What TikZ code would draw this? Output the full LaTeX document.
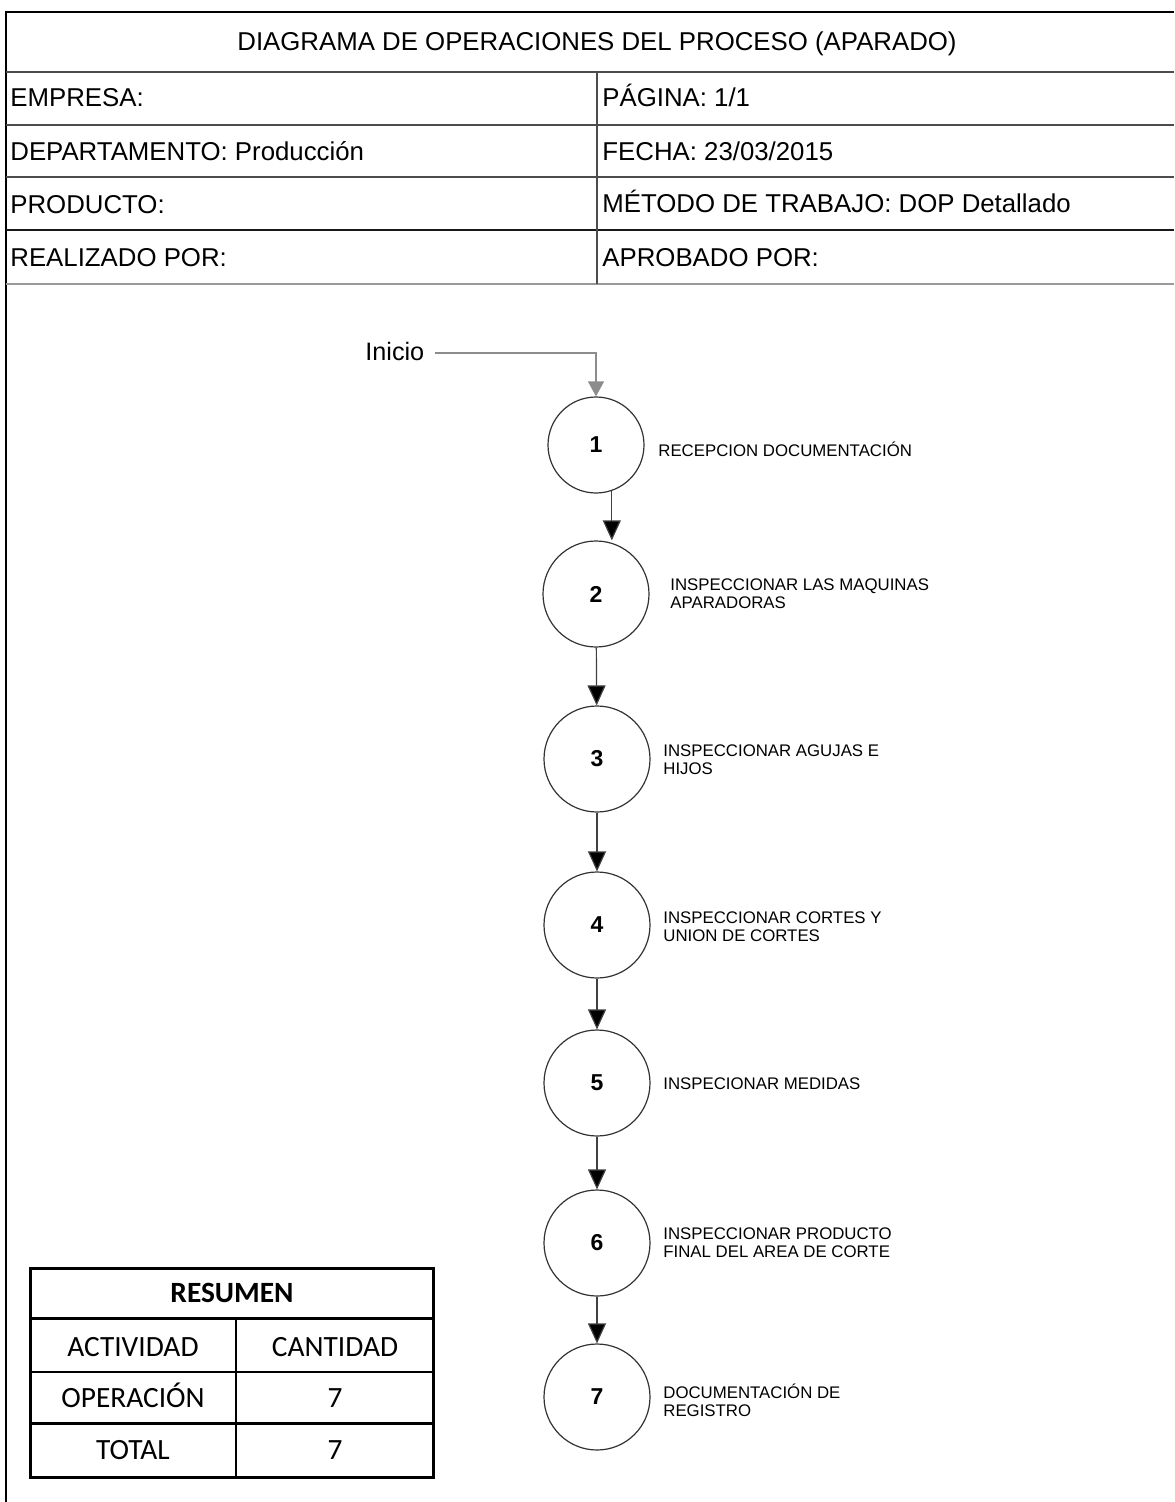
\documentclass[tikz,border=0pt]{standalone}
\usepackage{fontspec}
\setmainfont{Liberation Sans}
\newfontfamily\calibri{Carlito}
\usepackage{tikz}
\usetikzlibrary{arrows.meta,positioning,calc}

\begin{document}
\begin{tikzpicture}[x = .5pt, y = -.5pt,
  hdr/.style = {font = \fontsize{12.9}{15}\selectfont, anchor = base west, inner sep = 0},
  opcirc/.style = {circle, draw = black!80, line width = .6pt, minimum size = 53pt, inner sep = 0, font = \bfseries\fontsize{11.5}{13}\selectfont},
  oplabel/.style = {anchor = base west, align = left, inner sep = 0, font = \fontsize{8.4}{9}\selectfont},
  flow/.style = {draw = black!75, line width = .6pt, -{Triangle[length = 10pt, width = 9pt, fill = black]}},
  cell/.style = {font = \calibri\fontsize{14.7}{17}\selectfont, anchor = base, inner sep = 0}]
\fill[white] (0,0) rectangle (1174,1502);
\useasboundingbox (0,0) rectangle (1174,1502);
\draw[line width = 1.4pt] (6,1502) -- (6,12) -- (1174,12);
\draw[black!70, line width = .8pt] (6,72) -- (1174,72);
\draw[black!70, line width = .8pt] (6,125) -- (1174,125);
\draw[black!70, line width = .8pt] (6,177) -- (1174,177);
\draw[black!90, line width = 1.1pt] (6,230) -- (1174,230);
\draw[black!40, line width = 1pt] (6,284) -- (1174,284);
\draw[black!70, line width = .6pt] (597,72) -- (597,284);
\node[hdr, anchor = base] (title) at (597,51) {DIAGRAMA DE OPERACIONES DEL PROCESO (APARADO)};
\node[hdr] (empresa) at (10,107) {EMPRESA:};
\node[hdr] (pagina) at (602,107) {PÁGINA: 1/1};
\node[hdr] (depto) at (10,161) {DEPARTAMENTO: Producción};
\node[hdr] (fecha) at (602,161) {FECHA: 23/03/2015};
\node[hdr] (producto) at (10,214) {PRODUCTO:};
\node[hdr] (metodo) at (602,213) {MÉTODO DE TRABAJO: DOP Detallado};
\node[hdr] (realizado) at (10,267) {REALIZADO POR:};
\node[hdr] (aprobado) at (602,267) {APROBADO POR:};

\node[hdr, font = \fontsize{12.6}{15}\selectfont] (inicio) at (365,361) {Inicio};
\node[opcirc, minimum size = 48pt] (c1) at (596,445) {1};
\node[opcirc] (c2) at (596,594) {2};
\node[opcirc] (c3) at (597,759) {3};
\node[opcirc] (c4) at (597,925) {4};
\node[opcirc] (c5) at (597,1083) {5};
\node[opcirc] (c6) at (597,1243) {6};
\node[opcirc] (c7) at (597,1397) {7};
\node[oplabel] (t1) at (658,457) {RECEPCION DOCUMENTACIÓN};
\node[oplabel] (t2) at (670,608) {INSPECCIONAR LAS MAQUINAS\\APARADORAS};
\node[oplabel] (t3) at (663,774) {INSPECCIONAR AGUJAS E\\HIJOS};
\node[oplabel] (t4) at (663,941) {INSPECCIONAR CORTES Y\\UNION DE CORTES};
\node[oplabel] (t5) at (663,1089) {INSPECIONAR MEDIDAS};
\node[oplabel] (t6) at (663,1257) {INSPECCIONAR PRODUCTO\\FINAL DEL AREA DE CORTE};
\node[oplabel] (t7) at (663,1416) {DOCUMENTACIÓN DE\\REGISTRO};

\draw[black!45, line width = .7pt, -{Triangle[length = 7.5pt, width = 8pt, fill = black!45]}] ([xshift = 5pt, yshift = 4pt]inicio.base east) -| (c1.north);
\draw[flow] (c1.-71) -- (c1.-71 |- c2.north);
\draw[flow] (c2) -- (c3);
\draw[flow] (c3) -- (c4);
\draw[flow] (c4) -- (c5);
\draw[flow] (c5) -- (c6);
\draw[flow] (c6) -- (c7);

\draw[line width = 1.5pt] (30,1268) rectangle (433,1477);
\draw[line width = 1.5pt] (30,1318) -- (433,1318);
\draw[line width = 1pt] (30,1372) -- (433,1372);
\draw[line width = 1.5pt] (30,1423) -- (433,1423);
\draw[line width = 1pt] (236,1318) -- (236,1477);
\node[cell, font = \calibri\bfseries\fontsize{14.7}{17}\selectfont] (resumen) at (232,1302) {RESUMEN};
\node[cell] (actividad) at (133,1356) {ACTIVIDAD};
\node[cell] (cantidad) at (335,1356) {CANTIDAD};
\node[cell] (operacion) at (133,1407) {OPERACIÓN};
\node[cell] (nop) at (335,1407) {7};
\node[cell] (total) at (133,1459) {TOTAL};
\node[cell] (ntotal) at (335,1459) {7};
\end{tikzpicture}
\end{document}
